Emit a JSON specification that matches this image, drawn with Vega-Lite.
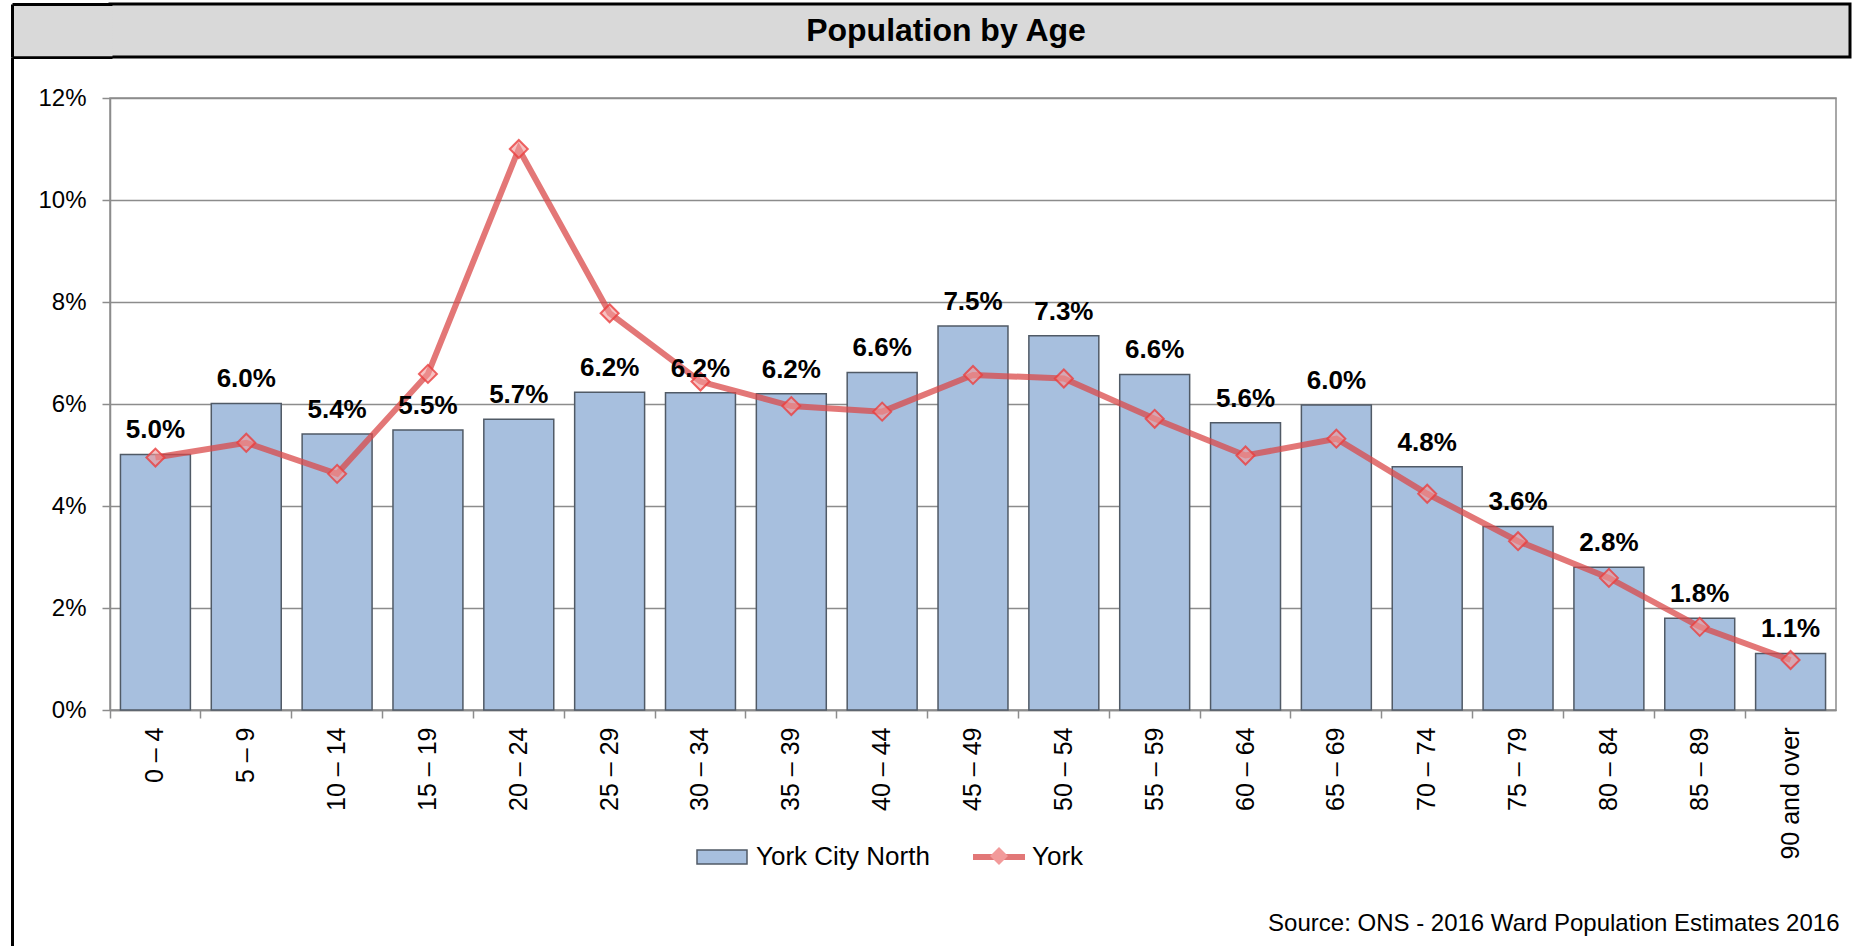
{
  "$schema": "https://vega.github.io/schema/vega-lite/v6.json",
  "background": "white",
  "padding": {"left": 8, "top": 1, "right": 10, "bottom": 0},
  "spacing": -6,
  "vconcat": [
    {
      "width": 1740,
      "height": 53,
      "view": {"fill": "#d9d9d9", "stroke": "black", "strokeWidth": 3},
      "data": {"values": [{"t": "Population by Age"}]},
      "mark": {"type": "text", "fontSize": 32, "fontWeight": "bold", "font": "Liberation Sans", "color": "black", "dx": -34, "baseline": "middle", "align": "center"},
      "encoding": {
        "text": {"field": "t", "type": "nominal"},
        "y": {
          "datum": 0.5,
          "type": "quantitative",
          "scale": {"domain": [0, 1], "nice": false, "zero": false},
          "axis": {
            "title": null,
            "values": [0, 0.05, 0.1, 0.15, 0.2, 0.25, 0.3, 0.35, 0.4, 0.45, 0.5, 0.55, 0.6, 0.65, 0.7, 0.75, 0.8, 0.85, 0.9, 0.95, 1],
            "offset": 98,
            "minExtent": 0,
            "maxExtent": 0,
            "labels": false,
            "grid": false,
            "domain": true,
            "domainColor": "black",
            "domainWidth": 3,
            "tickSize": -100,
            "tickColor": {"condition": {"test": "datum.value === 0 || datum.value === 1", "value": "black"}, "value": "#d9d9d9"},
            "tickWidth": {"condition": {"test": "datum.value === 0 || datum.value === 1", "value": 3}, "value": 3.4}
          }
        }
      }
    },
    {
      "width": 1726,
      "height": 612,
      "view": {"stroke": "#8c8c8c", "strokeWidth": 1.5},
      "resolve": {"axis": {"x": "independent", "y": "independent"}},
      "data": {
        "values": [
          {"age": "0 – 4", "ycn": 0.0501, "york": 0.0495},
          {"age": "5 – 9", "ycn": 0.0601, "york": 0.0524},
          {"age": "10 – 14", "ycn": 0.0541, "york": 0.0463},
          {"age": "15 – 19", "ycn": 0.0549, "york": 0.0659},
          {"age": "20 – 24", "ycn": 0.0570, "york": 0.1100},
          {"age": "25 – 29", "ycn": 0.0623, "york": 0.0778},
          {"age": "30 – 34", "ycn": 0.0622, "york": 0.0644},
          {"age": "35 – 39", "ycn": 0.0620, "york": 0.0596},
          {"age": "40 – 44", "ycn": 0.0662, "york": 0.0585},
          {"age": "45 – 49", "ycn": 0.0753, "york": 0.0657},
          {"age": "50 – 54", "ycn": 0.0734, "york": 0.0650},
          {"age": "55 – 59", "ycn": 0.0658, "york": 0.0571},
          {"age": "60 – 64", "ycn": 0.0563, "york": 0.0499},
          {"age": "65 – 69", "ycn": 0.0598, "york": 0.0532},
          {"age": "70 – 74", "ycn": 0.0477, "york": 0.0424},
          {"age": "75 – 79", "ycn": 0.0360, "york": 0.0331},
          {"age": "80 – 84", "ycn": 0.0280, "york": 0.0259},
          {"age": "85 – 89", "ycn": 0.0180, "york": 0.0163},
          {"age": "90 and over", "ycn": 0.0111, "york": 0.0098}
        ]
      },
      "layer": [
        {
          "mark": {"type": "bar", "stroke": "#505a66", "strokeWidth": 1.5},
          "encoding": {
            "x": {
              "field": "age",
              "type": "nominal",
              "sort": null,
              "scale": {"paddingInner": 0.23, "paddingOuter": 0.115},
              "axis": {
                "title": "Source: ONS - 2016 Ward Population Estimates 2016",
                "titleFont": "Liberation Sans",
                "titleFontSize": 24,
                "titleFontWeight": "normal",
                "titleColor": "black",
                "titleAlign": "right",
                "titleBaseline": "middle",
                "titleX": 1729,
                "titleY": 213,
                "labelAngle": -90,
                "labelFontSize": 25,
                "labelColor": "black",
                "labelPadding": 9,
                "labelOverlap": false,
                "labelLimit": 300,
                "tickSize": 8,
                "tickColor": "#8c8c8c",
                "tickWidth": 1.5,
                "bandPosition": -0.149,
                "domainColor": "#8c8c8c",
                "domainWidth": 1.5,
                "grid": false
              }
            },
            "y": {
              "field": "ycn",
              "type": "quantitative",
              "title": null,
              "scale": {"domain": [0, 0.12], "nice": false},
              "axis": {
                "values": [0, 0.02, 0.04, 0.06, 0.08, 0.1, 0.12],
                "format": ".0%",
                "title": null,
                "labelFontSize": 24,
                "labelColor": "black",
                "labelPadding": 16,
                "tickSize": 8,
                "tickColor": "#8c8c8c",
                "tickWidth": 1.5,
                "domainColor": "#8c8c8c",
                "domainWidth": 1.5,
                "gridColor": "#8c8c8c",
                "gridWidth": 1.5,
                "minExtent": 98
              }
            },
            "fill": {
              "datum": "York City North",
              "type": "nominal",
              "scale": {"range": ["#a7bfde"]},
              "legend": {
                "orient": "none",
                "legendX": 586,
                "legendY": 827,
                "title": null,
                "padding": 0,
                "symbolType": "M-1,-0.28H1V0.28H-1Z",
                "symbolSize": 2500,
                "symbolStrokeColor": "#505a66",
                "symbolStrokeWidth": 1.5,
                "labelFontSize": 26,
                "labelColor": "black",
                "labelOffset": 8,
                "labelLimit": 500
              }
            }
          }
        },
        {
          "mark": {"type": "line", "strokeWidth": 6, "opacity": 0.75},
          "encoding": {
            "x": {
              "field": "age",
              "type": "nominal",
              "sort": null,
              "axis": {
                "title": null,
                "orient": "top",
                "offset": 41,
                "minExtent": 0,
                "maxExtent": 0,
                "values": ["0 – 4"],
                "bandPosition": 0,
                "tickOffset": -108.4,
                "tickSize": -890,
                "tickColor": "black",
                "tickWidth": 3,
                "domain": false,
                "labels": false,
                "grid": false
              }
            },
            "y": {
              "field": "york",
              "type": "quantitative",
              "title": null,
              "axis": null
            },
            "stroke": {
              "datum": "York",
              "type": "nominal",
              "scale": {"range": ["#d94a4a"]},
              "legend": {
                "orient": "none",
                "legendX": 860,
                "legendY": 824,
                "title": null,
                "padding": 0,
                "symbolType": "stroke",
                "symbolSize": 2704,
                "symbolStrokeWidth": 6,
                "symbolOpacity": 0.75,
                "labelFontSize": 26,
                "labelColor": "black",
                "labelOffset": 4,
                "labelLimit": 500
              }
            }
          }
        },
        {
          "mark": {"type": "point", "filled": true, "size": 324, "fill": "#f29a9a", "fillOpacity": 0.6, "stroke": "#ea3f3f", "strokeWidth": 2, "strokeOpacity": 0.8},
          "encoding": {
            "x": {"field": "age", "type": "nominal", "sort": null, "axis": null},
            "y": {"field": "york", "type": "quantitative", "title": null, "axis": null},
            "shape": {
              "datum": "York marker",
              "type": "nominal",
              "scale": {"range": ["diamond"]},
              "legend": {
                "orient": "none",
                "legendX": 879,
                "legendY": 842,
                "title": null,
                "padding": 0,
                "symbolSize": 324,
                "symbolFillColor": "#f4b0b0",
                "symbolStrokeColor": "#ea3f3f",
                "symbolStrokeWidth": 2,
                "labelFontSize": 1,
                "labelExpr": "''",
                "labelColor": "transparent"
              }
            }
          }
        },
        {
          "mark": {"type": "text", "fontSize": 26, "fontWeight": "bold", "color": "black", "baseline": "alphabetic", "dy": -16},
          "encoding": {
            "x": {"field": "age", "type": "nominal", "sort": null, "axis": null},
            "y": {"field": "ycn", "type": "quantitative", "title": null, "axis": null},
            "text": {"field": "ycn", "type": "quantitative", "format": ".1%"}
          }
        }
      ]
    }
  ],
  "config": {
    "font": "Liberation Sans",
    "legend": {"labelFont": "Liberation Sans"}
  }
}
